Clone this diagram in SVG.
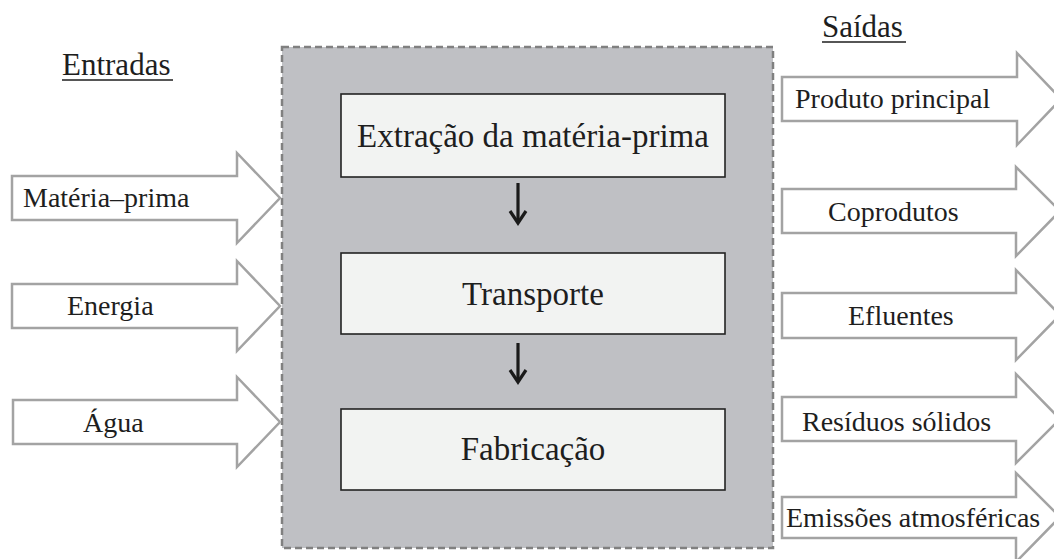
<svg xmlns="http://www.w3.org/2000/svg" width="1054" height="559" viewBox="0 0 1054 559">
<defs>
<style>
text{font-family:'Liberation Serif','DejaVu Serif',serif;fill:#1e1e1e}
.side{font-size:28px}
.main{font-size:33px;text-anchor:middle}
.head{font-size:31px}
.ar{fill:#ffffff;stroke:#a3a3a3;stroke-width:2.5;stroke-linejoin:miter}
.box{fill:#f2f3f2;stroke:#222;stroke-width:1.6}
.flow{stroke:#1a1a1a;stroke-width:3.2;fill:none}
</style>
</defs>
<rect width="1054" height="559" fill="#ffffff"/>
<g id="system">
<rect x="282" y="47" width="491" height="501" fill="#bfc0c4" stroke="#808080" stroke-width="2.5" stroke-dasharray="7 4"/>
</g>
<g id="lbl-entradas">
<text class="head" x="62" y="75" font-family="Liberation Serif, serif">Entradas</text>
<line x1="62" y1="80" x2="173" y2="80" stroke="#1e1e1e" stroke-width="1.5"/>
</g>
<g id="lbl-saidas">
<text class="head" x="822" y="37" font-family="Liberation Serif, serif">Saídas</text>
<line x1="822" y1="42" x2="906" y2="42" stroke="#1e1e1e" stroke-width="1.5"/>
</g>
<g id="in-materia">
<path class="ar" d="M12,176 H237 V153 L280,198 L237,243 V220 H12 Z"/>
<text class="side" x="23" y="207" font-family="Liberation Serif, serif">Matéria–prima</text>
</g>
<g id="in-energia">
<path class="ar" d="M12,284 H237 V261 L280,306 L237,351 V328 H12 Z"/>
<text class="side" x="67" y="315" font-family="Liberation Serif, serif">Energia</text>
</g>
<g id="in-agua">
<path class="ar" d="M13,400 H237 V377 L280,422 L237,467 V444 H13 Z"/>
<text class="side" x="83" y="432" font-family="Liberation Serif, serif">Água</text>
</g>
<g id="n-extracao">
<rect class="box" x="341" y="94" width="384" height="83"/>
<text class="main" x="533" y="147" font-family="Liberation Serif, serif">Extração da matéria-prima</text>
</g>
<g id="n-transporte">
<rect class="box" x="341" y="253" width="384" height="81"/>
<text class="main" x="533" y="305" font-family="Liberation Serif, serif">Transporte</text>
</g>
<g id="n-fabricacao">
<rect class="box" x="341" y="409" width="384" height="81"/>
<text class="main" x="533" y="460" font-family="Liberation Serif, serif">Fabricação</text>
</g>
<g id="connectors">
<line class="flow" x1="518" y1="183" x2="518" y2="222"/>
<polyline class="flow" points="510,211 518,223 526,211"/>
<line class="flow" x1="518" y1="343" x2="518" y2="381"/>
<polyline class="flow" points="510,370 518,382 526,370"/>
</g>
<g id="out-produto">
<path class="ar" d="M782,77 H1017 V53 L1061,99 L1017,145 V121 H782 Z"/>
<text class="side" x="795" y="108" font-family="Liberation Serif, serif">Produto principal</text>
</g>
<g id="out-coprodutos">
<path class="ar" d="M782,189 H1016 V167 L1060,211 L1016,256 V233 H782 Z"/>
<text class="side" x="828" y="221" font-family="Liberation Serif, serif">Coprodutos</text>
</g>
<g id="out-efluentes">
<path class="ar" d="M782,293 H1016 V270 L1060,315 L1016,360 V338 H782 Z"/>
<text class="side" x="848" y="325" font-family="Liberation Serif, serif">Efluentes</text>
</g>
<g id="out-residuos">
<path class="ar" d="M782,397 H1016 V374 L1060,419 L1016,463 V441 H782 Z"/>
<text class="side" x="802" y="431" font-family="Liberation Serif, serif">Resíduos sólidos</text>
</g>
<g id="out-emissoes">
<path class="ar" d="M782,497 H1016 V473 L1060,517 L1016,562 V538 H782 Z"/>
<text class="side" x="786" y="527" font-family="Liberation Serif, serif">Emissões atmosféricas</text>
</g>
</svg>
